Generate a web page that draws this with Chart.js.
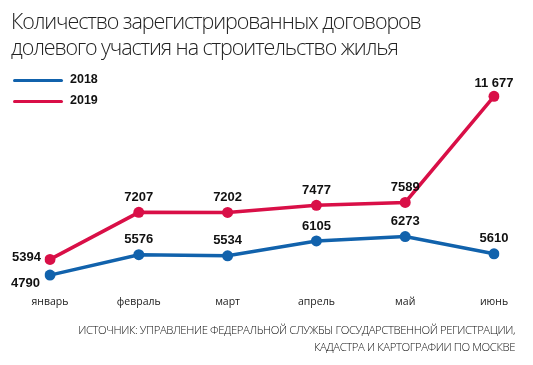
<!DOCTYPE html>
<html><head><meta charset="utf-8">
<script src="https://cdn.jsdelivr.net/npm/chart.js@4/dist/chart.umd.min.js"></script>
<style>
html,body{margin:0;padding:0;background:#fff;}
#wrap{position:relative;width:533px;height:365px;overflow:hidden;}
#c{position:absolute;left:0;top:0;}
.t{position:absolute;font-family:"Open Sans",sans-serif;color:#222;}
#title{left:11px;top:8px;font-size:21.5px;font-weight:300;line-height:26px;letter-spacing:-1.1px;}
.lg{position:absolute;left:13px;width:50px;height:3px;border-radius:2px;}
.lt{position:absolute;left:70px;font-family:"Liberation Sans",Arial,sans-serif;font-weight:bold;font-size:12.5px;color:#111;}
#src{right:18px;top:321px;text-align:right;font-size:11.3px;line-height:17px;font-weight:300;letter-spacing:-0.4px;color:#111;}
</style></head>
<body><div id="wrap">
<canvas id="c" width="533" height="365"></canvas>
<div id="title" class="t">Количество зарегистрированных договоров<br>долевого участия на строительство жилья</div>
<div class="lg" style="top:79px;background:#1162ac"></div><div class="lt" style="top:72px">2018</div>
<div class="lg" style="top:100px;background:#d90f47"></div><div class="lt" style="top:93px">2019</div>
<div id="src" class="t">ИСТОЧНИК: УПРАВЛЕНИЕ ФЕДЕРАЛЬНОЙ СЛУЖБЫ ГОСУДАРСТВЕННОЙ РЕГИСТРАЦИИ,<br>КАДАСТРА И КАРТОГРАФИИ ПО МОСКВЕ</div>
</div>
<script>
const months = ["январь","февраль","март","апрель","май","июнь"];
const values2018 = [4790, 5576, 5534, 6105, 6273, 5610];
const values2019 = [5394, 7207, 7202, 7477, 7589, 11677];
const labels2018 = ["4790","5576","5534","6105","6273","5610"];
const labels2019 = ["5394","7207","7202","7477","7589","11 677"];
const BLUE = "#1162ac", RED = "#d90f47";

const labelPlugin = {
  id: "vals",
  afterDatasetsDraw(chart) {
    const ctx = chart.ctx;
    ctx.save();
    ctx.font = "bold 13px 'Liberation Sans', Arial, sans-serif";
    ctx.fillStyle = "#111";
    ctx.textBaseline = "middle";
    const sets = [labels2018, labels2019];
    sets.forEach((labs, di) => {
      const meta = chart.getDatasetMeta(di);
      meta.data.forEach((pt, i) => {
        let x = pt.x, y = pt.y - 15, align = "center";
        if (i === 0) {
          align = "right";
          if (di === 0) { x = pt.x - 10; y = pt.y + 8; }
          else { x = pt.x - 9; y = pt.y - 2; }
        }
        if (di === 1 && i === 5) { y = pt.y - 13; }
        ctx.textAlign = align;
        ctx.fillText(labs[i], x, y);
      });
    });
    ctx.restore();
  }
};

new Chart(document.getElementById("c"), {
  type: "line",
  data: {
    labels: months,
    datasets: [
      {data: values2018, borderColor: BLUE, backgroundColor: BLUE, borderWidth: 3.5, pointRadius: 5.5, pointBackgroundColor: BLUE, pointBorderWidth: 0, tension: 0},
      {data: values2019, borderColor: RED, backgroundColor: RED, borderWidth: 3.5, pointRadius: 5.5, pointBackgroundColor: RED, pointBorderWidth: 0, tension: 0}
    ]
  },
  options: {
    responsive: false,
    animation: false,
    layout: {padding: {left: 50, right: 39, top: 62, bottom: 52}},
    plugins: {legend: {display: false}, tooltip: {enabled: false}},
    scales: {
      y: {display: false, min: 4200, max: 13000},
      x: {
        grid: {display: false, drawTicks: false},
        border: {display: false},
        ticks: {color: "#222", padding: 5, font: {family: "'Open Sans', sans-serif", size: 10.5}, maxRotation: 0, autoSkip: false}
      }
    }
  },
  plugins: [labelPlugin]
});
</script>
</body></html>
